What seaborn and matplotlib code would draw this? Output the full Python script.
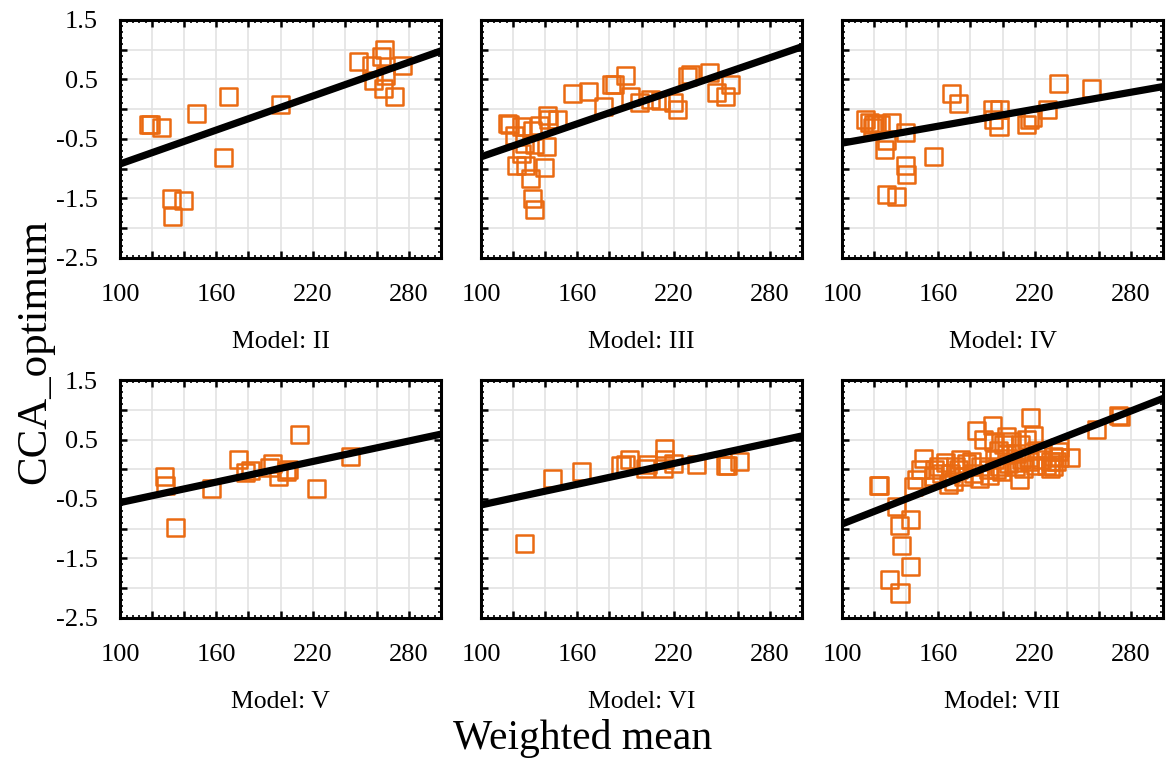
import numpy as np
import pandas as pd
import seaborn as sns
import matplotlib
matplotlib.use("Agg")
import matplotlib.pyplot as plt
from matplotlib.ticker import FixedLocator, FuncFormatter, AutoMinorLocator

# ---- data -----------------------------------------------------------------
models = ["II", "III", "IV", "V", "VI", "VII"]

wm_II = [117.6, 118.7, 126.0, 147.8, 167.5, 164.4, 132.2, 139.5, 132.8, 199.7,
         248.5, 256.8, 263.0, 265.1, 257.8, 265.7, 264.0, 271.3, 276.1]
cca_II = [-0.25, -0.26, -0.30, -0.08, 0.21, -0.81, -1.50, -1.53, -1.81, 0.08,
          0.81, 0.73, 0.88, 1.00, 0.49, 0.56, 0.34, 0.22, 0.74]

wm_III = [116.6, 117.7, 124.9, 120.8, 132.2, 136.3, 141.1, 141.9, 147.8, 127.0,
          133.2, 140.5, 124.9, 121.8, 127.6, 139.4, 130.5, 132.2, 133.2, 157.1,
          167.1, 176.4, 181.4, 183.1, 190.3, 193.0, 198.6, 205.3, 212.1, 219.8,
          222.5, 228.8, 230.8, 242.2, 247.0, 252.6, 255.3]
cca_III = [-0.24, -0.26, -0.29, -0.45, -0.35, -0.28, -0.10, -0.18, -0.18, -0.57,
           -0.59, -0.62, -0.74, -0.94, -0.94, -0.98, -1.17, -1.50, -1.69, 0.26,
           0.30, 0.04, 0.42, 0.42, 0.56, 0.22, 0.12, 0.17, 0.14, 0.12,
           0.00, 0.55, 0.59, 0.62, 0.28, 0.22, 0.41]

wm_IV = [114.3, 117.0, 119.5, 121.6, 123.7, 119.1, 131.0, 139.3, 127.4, 126.4,
         156.9, 139.3, 139.9, 127.8, 134.1, 168.3, 172.5, 193.7, 198.4, 194.2,
         197.8, 215.1, 216.7, 218.6, 228.2, 234.8, 255.6]
cca_IV = [-0.17, -0.23, -0.25, -0.24, -0.26, -0.30, -0.23, -0.39, -0.52, -0.68,
          -0.80, -0.94, -1.09, -1.43, -1.46, 0.27, 0.10, 0.00, 0.00, -0.18,
          -0.29, -0.25, -0.18, -0.14, 0.00, 0.44, 0.34]

wm_V = [127.6, 128.0, 134.7, 157.1, 173.7, 177.9, 181.0, 193.0, 195.1, 198.6,
        203.9, 204.9, 212.1, 222.5, 243.3]
cca_V = [-0.12, -0.28, -0.98, -0.33, 0.17, -0.06, -0.02, 0.03, 0.10, -0.12,
         -0.04, -0.01, 0.59, -0.32, 0.22]

wm_VI = [127.0, 144.7, 162.7, 187.2, 189.9, 192.4, 202.4, 203.9, 214.2, 214.2,
         213.8, 219.8, 234.4, 252.6, 253.7, 260.9]
cca_VI = [-1.25, -0.16, -0.03, 0.07, 0.08, 0.17, 0.02, 0.08, 0.35, 0.16,
          0.02, 0.10, 0.08, 0.06, 0.07, 0.13]

wm_VII = [122.6, 123.4, 134.1, 135.5, 142.8, 136.8, 142.8, 129.5, 136.1, 144.4,
          146.5, 148.6, 150.7, 156.9, 157.9, 162.1, 164.2, 166.2, 167.3, 170.4,
          173.5, 175.6, 177.7, 180.8, 183.9, 185.5, 188.0, 191.1, 192.1, 193.8,
          194.2, 195.3, 197.3, 198.4, 199.4, 200.4, 202.5, 203.6, 205.7, 208.8,
          210.3, 210.9, 212.0, 213.0, 215.1, 216.2, 217.6, 219.3, 220.3, 221.4,
          224.5, 227.6, 229.7, 231.7, 233.8, 234.8, 235.8, 242.1, 258.7, 272.2,
          273.8, 160.0, 169.4, 172.5, 181.9, 186.0, 196.3, 202.5, 207.8, 217.1,
          229.7, 231.7, 235.8]
cca_VII = [-0.28, -0.27, -0.62, -0.94, -0.84, -1.28, -1.63, -1.86, -2.08, -0.29,
           -0.18, -0.01, 0.18, -0.12, -0.01, -0.07, 0.11, -0.26, -0.07, 0.04,
           0.16, -0.12, 0.10, 0.13, 0.65, -0.15, 0.50, -0.01, -0.11, 0.74,
           0.46, 0.16, 0.32, 0.04, -0.04, 0.41, 0.55, 0.10, 0.46, 0.27,
           -0.18, 0.42, 0.16, 0.02, 0.50, 0.19, 0.87, 0.56, 0.07, 0.32,
           0.16, 0.07, 0.02, 0.21, 0.13, 0.30, 0.36, 0.19, 0.66, 0.91,
           0.89, 0.04, -0.21, -0.01, -0.07, 0.04, -0.01, 0.25, 0.04, 0.13,
           0.13, 0.04, 0.19]

# fitted line: value at the two ends of the x range
fit_x = [100, 300]
fit_II = [-0.92, 0.98]
fit_III = [-0.80, 1.05]
fit_IV = [-0.57, 0.38]
fit_V = [-0.56, 0.59]
fit_VI = [-0.60, 0.56]
fit_VII = [-0.92, 1.19]

x_lists = [wm_II, wm_III, wm_IV, wm_V, wm_VI, wm_VII]
y_lists = [cca_II, cca_III, cca_IV, cca_V, cca_VI, cca_VII]
fit_lists = [fit_II, fit_III, fit_IV, fit_V, fit_VI, fit_VII]

points = pd.concat(
    [pd.DataFrame({"Weighted mean": xs, "CCA_optimum": ys, "Model": m})
     for m, xs, ys in zip(models, x_lists, y_lists)],
    ignore_index=True)
fits = pd.concat(
    [pd.DataFrame({"Weighted mean": fit_x, "CCA_optimum": f, "Model": m})
     for m, f in zip(models, fit_lists)],
    ignore_index=True)

x_labels = {100, 160, 220, 280}
y_labels = {-2.5, -1.5, -0.5, 0.5, 1.5}

# ---- style ----------------------------------------------------------------
sns.set_theme(style="white")
plt.rcParams["font.family"] = ["Liberation Serif", "DejaVu Serif"]
plt.rcParams["text.color"] = "black"
plt.rcParams["axes.labelcolor"] = "black"
orange = "#EA6A12"

fig, axes = plt.subplots(2, 3, figsize=(11.66, 7.62), dpi=100,
                         sharex=False, sharey=False)
fig.subplots_adjust(left=0.103, right=0.9974, top=0.9738, bottom=0.189,
                    wspace=0.125, hspace=0.513)

for i, (ax, m) in enumerate(zip(axes.flat, models)):
    sub = points[points["Model"] == m]
    sns.scatterplot(data=sub, x="Weighted mean", y="CCA_optimum", ax=ax,
                    marker="s", s=150, facecolors="none", edgecolor=orange,
                    linewidth=1.8, zorder=3)
    sns.lineplot(data=fits[fits["Model"] == m], x="Weighted mean",
                 y="CCA_optimum", ax=ax, color="black", linewidth=5.2,
                 zorder=4)

    ax.set_xlim(100, 300)
    ax.set_ylim(-2.5, 1.5)
    ax.xaxis.set_major_locator(FixedLocator(np.arange(100, 301, 20)))
    ax.yaxis.set_major_locator(FixedLocator(np.arange(-2.5, 1.51, 0.5)))
    ax.xaxis.set_major_formatter(FuncFormatter(
        lambda v, p: f"{v:.0f}" if round(v) in x_labels else ""))
    ax.yaxis.set_major_formatter(FuncFormatter(
        lambda v, p: f"{v:.1f}" if round(v, 1) in y_labels else ""))
    ax.xaxis.set_minor_locator(AutoMinorLocator(5))
    ax.yaxis.set_minor_locator(AutoMinorLocator(5))

    ax.grid(True, which="major", color="#e3e3e3", linewidth=1.2, zorder=0)
    ax.set_axisbelow(True)
    for sp in ax.spines.values():
        sp.set_visible(True)
        sp.set_color("black")
        sp.set_linewidth(2.2)

    ax.tick_params(which="major", direction="in", length=5, width=1.8,
                   top=True, right=True, bottom=True, left=True,
                   labelsize=19, colors="black")
    ax.tick_params(axis="x", which="major", pad=19)
    ax.tick_params(axis="y", which="major", pad=16)
    ax.tick_params(which="minor", direction="in", length=2.5, width=1.4,
                   top=True, right=True, bottom=True, left=True)
    if i % 3 != 0:
        ax.tick_params(axis="y", which="both", labelleft=False)

    ax.set_ylabel("")
    ax.set_xlabel(f"Model: {m}", fontsize=18.5, labelpad=18, color="black")

fig.text(0.5, 0.017, "Weighted mean", ha="center", va="baseline",
         fontsize=30, color="black")
fig.text(0.030, 0.538, "CCA_optimum", ha="center", va="center",
         rotation=90, fontsize=31, color="black")

fig.savefig("out.png", dpi=100)
